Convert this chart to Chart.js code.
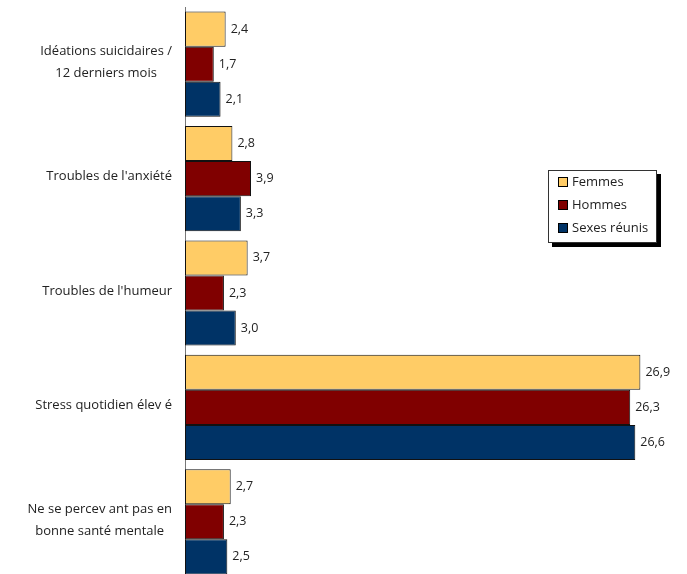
<!DOCTYPE html>
<html>
<head>
<meta charset="utf-8">
<script src="https://cdn.jsdelivr.net/npm/chart.js@4.4.0/dist/chart.umd.min.js"></script>
<style>
  html, body { margin: 0; padding: 0; background: #fff; overflow: hidden; }
  #wrap { position: relative; width: 687px; height: 579px; }
</style>
</head>
<body>
<div id="wrap"><canvas id="c"></canvas></div>
<script>
// Data
const categories = [
    ['Idéations suicidaires /', '12 derniers mois'],
    ["Troubles de l'anxiété"],
    ["Troubles de l'humeur"],
    ['Stress quotidien élev é'],
    ['Ne se percev ant pas en', 'bonne santé mentale']
];
const seriesNames = ['Femmes', 'Hommes', 'Sexes réunis'];
const femmes = [2.4, 2.8, 3.7, 26.9, 2.7];
const hommes = [1.7, 3.9, 2.3, 26.3, 2.3];
const sexesReunis = [2.1, 3.3, 3.0, 26.6, 2.5];
const seriesColors = ['#FFCC66', '#800000', '#003366'];

const FONT = '"Open Sans", "DejaVu Sans", sans-serif';

// value labels at the end of each bar, French decimal comma
const valueLabels = {
    id: 'valueLabels',
    afterDatasetsDraw(chart) {
        const ctx = chart.ctx;
        ctx.save();
        ctx.font = '12.5px ' + FONT;
        ctx.fillStyle = '#222';
        ctx.textAlign = 'left';
        ctx.textBaseline = 'middle';
        chart.data.datasets.forEach((ds, di) => {
            chart.getDatasetMeta(di).data.forEach((bar, i) => {
                const txt = ds.data[i].toFixed(1).replace('.', ',');
                ctx.fillText(txt, bar.x + 5, bar.y);
            });
        });
        ctx.restore();
    }
};

// category labels: lines centred on each other, widest line ends near the axis
const categoryLabels = {
    id: 'categoryLabels',
    afterDraw(chart) {
        const ctx = chart.ctx;
        const yScale = chart.scales.y;
        const right = chart.chartArea.left - 13;
        const lineH = 22;
        ctx.save();
        ctx.font = '13px ' + FONT;
        ctx.fillStyle = '#222';
        ctx.textAlign = 'center';
        ctx.textBaseline = 'middle';
        categories.forEach((lines, i) => {
            const cy = yScale.getPixelForValue(i) - 2;
            const maxW = Math.max(...lines.map(l => ctx.measureText(l).width));
            const cx = right - maxW / 2;
            const top = cy - (lines.length - 1) * lineH / 2;
            lines.forEach((l, k) => ctx.fillText(l, cx, top + k * lineH));
        });
        ctx.restore();
    }
};

// boxed legend with a black drop shadow
const legendBox = {
    id: 'legendBox',
    afterDraw(chart) {
        const ctx = chart.ctx;
        const x = 548, y = 170, w = 109, h = 73;
        ctx.save();
        ctx.fillStyle = '#000';
        ctx.fillRect(x + 4, y + 4, w, h);
        ctx.fillStyle = '#fff';
        ctx.fillRect(x, y, w, h);
        ctx.strokeStyle = '#333';
        ctx.lineWidth = 1;
        ctx.strokeRect(x + 0.5, y + 0.5, w - 1, h - 1);
        ctx.font = '13px ' + FONT;
        ctx.textAlign = 'left';
        ctx.textBaseline = 'middle';
        chart.data.datasets.forEach((ds, i) => {
            const cy = y + 12 + i * 23;
            ctx.fillStyle = ds.backgroundColor;
            ctx.fillRect(558, cy - 5, 10, 10);
            ctx.strokeStyle = '#000';
            ctx.strokeRect(558.5, cy - 4.5, 9, 9);
            ctx.fillStyle = '#222';
            ctx.fillText(ds.label, 572, cy);
        });
        ctx.restore();
    }
};

const seriesData = [femmes, hommes, sexesReunis];

new Chart(document.getElementById('c'), {
    type: 'bar',
    data: {
        labels: categories.map(l => l.join(' ')),
        datasets: seriesNames.map((name, i) => ({
            label: name,
            data: seriesData[i],
            backgroundColor: seriesColors[i],
            borderColor: '#111',
            borderWidth: 1,
            borderSkipped: false,
            categoryPercentage: 0.92,
            barPercentage: 1.0
        }))
    },
    options: {
        indexAxis: 'y',
        responsive: true,
        maintainAspectRatio: false,
        animation: false,
        layout: { padding: { top: 7, right: 28, bottom: 0, left: 0 } },
        plugins: {
            legend: { display: false },
            tooltip: { enabled: false }
        },
        scales: {
            x: { min: 0, max: 28, display: false },
            y: {
                grid: { display: false },
                ticks: { display: false },
                border: { display: true, color: '#777', width: 1 },
                afterFit(s) { s.width = 185; }
            }
        }
    },
    plugins: [valueLabels, categoryLabels, legendBox]
});
</script>
</body>
</html>
